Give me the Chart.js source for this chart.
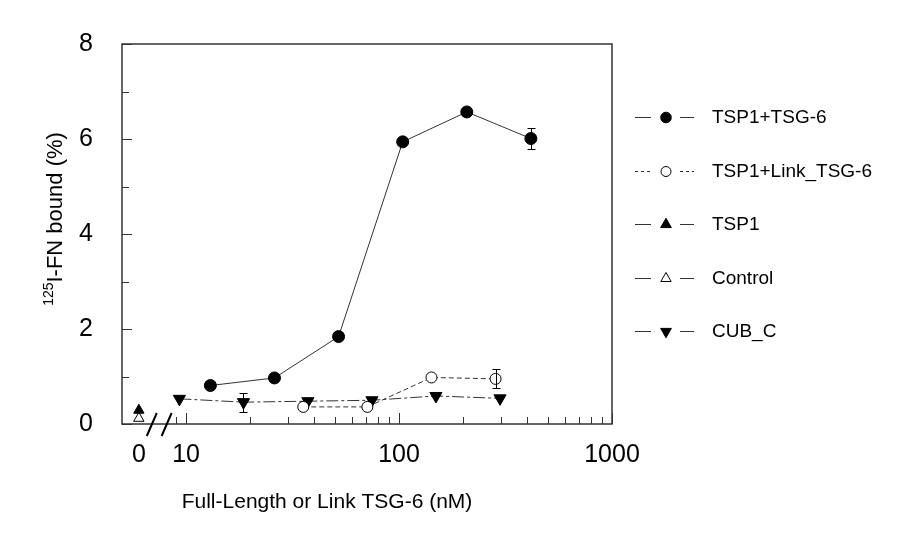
<!DOCTYPE html>
<html>
<head>
<meta charset="utf-8">
<script src="https://cdn.jsdelivr.net/npm/chart.js@4.4.1/dist/chart.umd.min.js"></script>
<style>
  html, body { margin: 0; padding: 0; background: #fff; }
  #wrap { width: 900px; height: 543px; position: relative; }
</style>
</head>
<body>
<div id="wrap"><canvas id="chart"></canvas></div>
<script>
// values: concentration (nM) vs 125I-FN bound (%)
const tsgX = [13, 26, 52, 104, 208, 416];
const tsgY = [0.81, 0.97, 1.84, 5.94, 6.57, 6.01];
const tsgErr = [0, 0, 0, 0, 0, 0.23];

const linkX = [35.5, 71, 142, 284];
const linkY = [0.36, 0.36, 0.98, 0.95];
const linkErr = [0, 0, 0, 0.2];

const tspX = [0];
const tspY = [0.29];

const ctrlX = [0];
const ctrlY = [0.12];

const cubX = [9.3, 18.6, 37.3, 74.6, 149, 298];
const cubY = [0.53, 0.46, 0.48, 0.50, 0.59, 0.54];
const cubErr = [0, 0.2, 0, 0, 0, 0];

const seriesNames = ['TSP1+TSG-6', 'TSP1+Link_TSG-6', 'TSP1', 'Control', 'CUB_C'];

// axis ticks
const xMajor = [10, 100, 1000];
const xMinor = [9, 20, 30, 40, 50, 60, 70, 80, 90, 200, 300, 400, 500, 600, 700, 800, 900];
const yMajor = [0, 2, 4, 6, 8];
const yMinor = [1, 3, 5, 7];
const zeroAt = 6;          // where "0" sits on the broken log axis
const breakAt = [6.9, 8.1]; // the "//" marks

const FONT = '"Liberation Sans", Arial, Helvetica, sans-serif';

function pts(xs, ys) {
  return xs.map((x, i) => ({ x: x === 0 ? zeroAt : x, y: ys[i] }));
}

const datasets = [
  { label: seriesNames[0], data: pts(tsgX, tsgY), err: tsgErr,
    borderColor: '#333', borderWidth: 1, pointStyle: 'circle', pointRadius: 6,
    pointBackgroundColor: '#000', pointBorderColor: '#000', pointBorderWidth: 1, legendDash: [], legendR: 5.3 },
  { label: seriesNames[1], data: pts(linkX, linkY), err: linkErr,
    borderColor: '#333', borderWidth: 1, borderDash: [5, 3], pointStyle: 'circle', pointRadius: 5.5,
    pointBackgroundColor: '#fff', pointBorderColor: '#000', pointBorderWidth: 1, legendDash: [3, 3], legendR: 5 },
  { label: seriesNames[2], data: pts(tspX, tspY),
    borderColor: '#333', borderWidth: 1, pointStyle: 'triangle', pointRadius: 6,
    pointBackgroundColor: '#000', pointBorderColor: '#000', pointBorderWidth: 1, legendDash: [], legendR: 6.2 },
  { label: seriesNames[3], data: pts(ctrlX, ctrlY),
    borderColor: '#333', borderWidth: 1, pointStyle: 'triangle', pointRadius: 6,
    pointBackgroundColor: '#fff', pointBorderColor: '#000', pointBorderWidth: 1, legendDash: [], legendR: 6 },
  { label: seriesNames[4], data: pts(cubX, cubY), err: cubErr,
    borderColor: '#333', borderWidth: 1, borderDash: [12, 3, 3, 3], pointStyle: 'triangle', pointRotation: 180, pointRadius: 7,
    pointBackgroundColor: '#000', pointBorderColor: '#000', pointBorderWidth: 1, legendDash: [], legendR: 6.2 }
];

// frame, inside ticks, axis break
const framePlugin = {
  id: 'frame',
  afterDraw(chart) {
    const { ctx, chartArea: a, scales: { x, y } } = chart;
    ctx.save();
    ctx.strokeStyle = '#333';
    ctx.lineWidth = 1.5;
    ctx.strokeRect(a.left, a.top, a.right - a.left, a.bottom - a.top);
    ctx.lineWidth = 1;
    ctx.beginPath();
    yMajor.concat(yMinor).forEach(v => {
      const py = Math.round(y.getPixelForValue(v)) + 0.5;
      const len = yMajor.includes(v) ? 10 : 7;
      ctx.moveTo(a.left, py); ctx.lineTo(a.left + len, py);
    });
    xMajor.concat(xMinor).forEach(v => {
      const px = Math.round(x.getPixelForValue(v)) + 0.5;
      const len = xMajor.includes(v) ? 11 : 7;
      ctx.moveTo(px, a.bottom); ctx.lineTo(px, a.bottom - len);
    });
    ctx.stroke();
    // break marks
    ctx.lineWidth = 2;
    ctx.strokeStyle = '#000';
    ctx.beginPath();
    breakAt.forEach(v => {
      const px = x.getPixelForValue(v);
      ctx.moveTo(px - 5, a.bottom + 12); ctx.lineTo(px + 5, a.bottom - 11);
    });
    ctx.stroke();
    ctx.restore();
  }
};

const errorBarPlugin = {
  id: 'errorBars',
  afterDatasetsDraw(chart) {
    const { ctx, scales: { x, y } } = chart;
    ctx.save();
    ctx.strokeStyle = '#000';
    ctx.lineWidth = 1;
    chart.data.datasets.forEach(ds => {
      if (!ds.err) return;
      ds.data.forEach((p, i) => {
        const e = ds.err[i];
        if (!e) return;
        const px = Math.round(x.getPixelForValue(p.x)) + 0.5;
        const top = Math.round(y.getPixelForValue(p.y + e)) + 0.5;
        const bot = Math.round(y.getPixelForValue(p.y - e)) + 0.5;
        ctx.beginPath();
        ctx.moveTo(px, top); ctx.lineTo(px, bot);
        ctx.moveTo(px - 4, top); ctx.lineTo(px + 4, top);
        ctx.moveTo(px - 4, bot); ctx.lineTo(px + 4, bot);
        ctx.stroke();
      });
    });
    ctx.restore();
  }
};

const legendPlugin = {
  id: 'sideLegend',
  afterDraw(chart) {
    const { ctx, chartArea: a } = chart;
    const x0 = a.right + 23;
    const top = a.top + 73;
    const gap = 53.5;
    ctx.save();
    chart.data.datasets.forEach((ds, i) => {
      const yy = Math.round(top + i * gap) + 0.5;
      ctx.strokeStyle = '#333';
      ctx.lineWidth = 1;
      ctx.setLineDash(ds.legendDash);
      ctx.beginPath();
      ctx.moveTo(x0, yy); ctx.lineTo(x0 + 16, yy);
      ctx.moveTo(x0 + 45, yy); ctx.lineTo(x0 + 59, yy);
      ctx.stroke();
      ctx.setLineDash([]);
      ctx.fillStyle = ds.pointBackgroundColor;
      ctx.strokeStyle = ds.pointBorderColor;
      Chart.helpers.drawPoint(ctx, {
        pointStyle: ds.pointStyle, radius: ds.legendR,
        rotation: ds.pointRotation || 0, borderWidth: 1
      }, x0 + 31, yy);
      ctx.fillStyle = '#000';
      ctx.font = '19px ' + FONT;
      ctx.textBaseline = 'middle';
      ctx.textAlign = 'left';
      ctx.fillText(ds.label, x0 + 77, yy);
    });
    ctx.restore();
  }
};

const titlesPlugin = {
  id: 'axisTitles',
  afterDraw(chart) {
    const { ctx, chartArea: a } = chart;
    ctx.save();
    ctx.fillStyle = '#000';
    // x title
    ctx.font = '21px ' + FONT;
    ctx.textAlign = 'center';
    ctx.textBaseline = 'alphabetic';
    ctx.fillText('Full-Length or Link TSG-6 (nM)', a.left + 205, a.bottom + 84);
    // y title with superscript
    ctx.translate(a.left - 68, (a.top + a.bottom) / 2 - 15);
    ctx.rotate(-Math.PI / 2);
    const main = 'I-FN bound (%)';
    ctx.font = '14px ' + FONT;
    const wSup = ctx.measureText('125').width;
    ctx.font = '22px ' + FONT;
    const wMain = ctx.measureText(main).width;
    const start = -(wSup + wMain) / 2;
    ctx.textAlign = 'left';
    ctx.font = '14px ' + FONT;
    ctx.fillText('125', start, -1);
    ctx.font = '22px ' + FONT;
    ctx.fillText(main, start + wSup, 8);
    ctx.restore();
  }
};

new Chart(document.getElementById('chart'), {
  type: 'line',
  data: { datasets },
  options: {
    responsive: true,
    maintainAspectRatio: false,
    animation: false,
    layout: { padding: { left: 0, right: 288, top: 41, bottom: 0 } },
    plugins: { legend: { display: false }, tooltip: { enabled: false } },
    scales: {
      x: {
        type: 'logarithmic', min: 5, max: 1000,
        afterBuildTicks: s => { s.ticks = [zeroAt].concat(xMajor).map(v => ({ value: v })); },
        afterFit: s => { s.height = 119; },
        grid: { display: false, drawTicks: false },
        border: { display: false },
        ticks: {
          autoSkip: false, maxRotation: 0, padding: 16, color: '#000',
          font: { family: FONT, size: 25 },
          callback: v => (v === zeroAt ? '0' : String(v))
        }
      },
      y: {
        min: 0, max: 8,
        afterBuildTicks: s => { s.ticks = yMajor.map(v => ({ value: v })); },
        afterFit: s => { s.width = 122; },
        grid: { display: false, drawTicks: false },
        border: { display: false },
        ticks: { padding: 29, color: '#000', font: { family: FONT, size: 25 } }
      }
    }
  },
  plugins: [framePlugin, errorBarPlugin, legendPlugin, titlesPlugin]
});
</script>
</body>
</html>
